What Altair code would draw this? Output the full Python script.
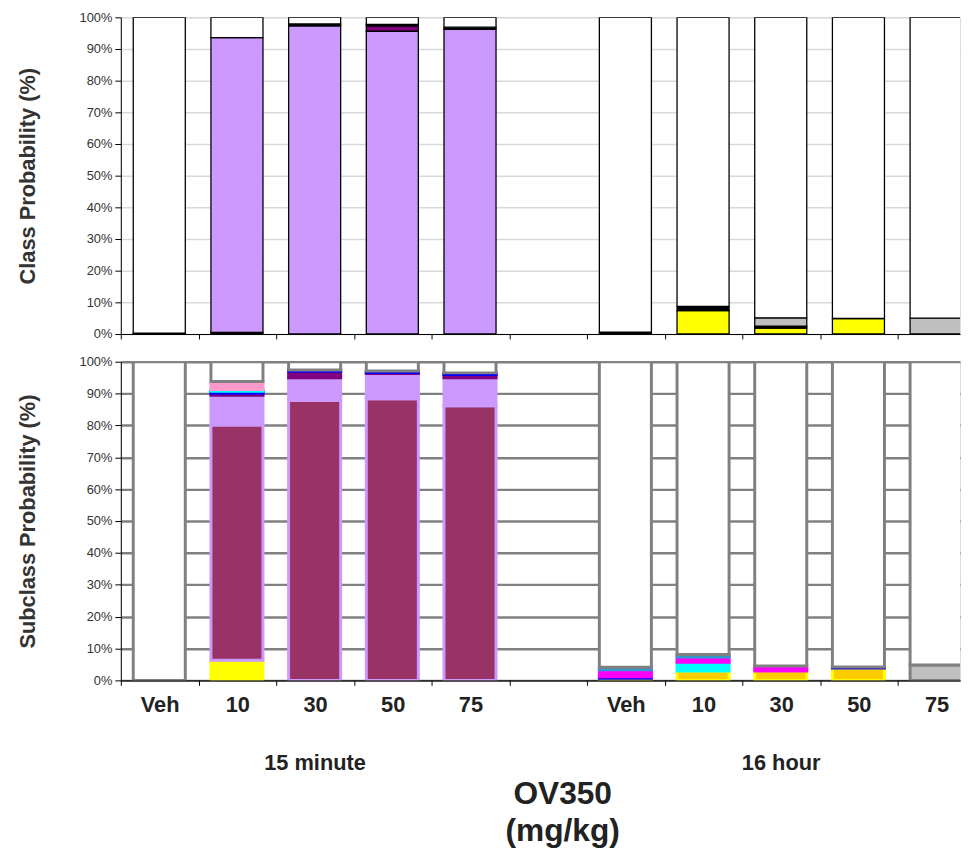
import json
import altair as alt
import pandas as pd

# ---------------- data ----------------
slot_labels = ["Veh", "10", "30", "50", "75", "", "Veh", "10", "30", "50", "75"]
slot_groups = ["15 minute"] * 5 + [""] + ["16 hour"] * 5
y_ticks = [0, 10, 20, 30, 40, 50, 60, 70, 80, 90, 100]

# class probabilities (%), stacked bottom -> top
class_names = ["Yellow class", "Black class A", "Gray class", "Purple class",
               "Plum class", "Black class B", "Other"]
class_colors = ["#FFFF00", "#000000", "#C0C0C0", "#CC99FF", "#800080", "#000000", "#FFFFFF"]
class_yellow = [0, 0, 0, 0, 0, 0, 0, 7.4, 1.9, 4.9, 0]
class_black_a = [0.3, 0.5, 0, 0, 0, 0, 0.6, 1.3, 0.6, 0, 0]
class_gray = [0, 0, 0, 0, 0, 0, 0, 0, 2.6, 0, 5.0]
class_purple = [0, 93.1, 97.3, 95.6, 96.2, 0, 0, 0, 0, 0, 0]
class_plum = [0, 0, 0, 1.7, 0, 0, 0, 0, 0, 0, 0]
class_black_b = [0, 0, 0.6, 0.5, 0.7, 0, 0, 0, 0, 0, 0]
class_other = [99.7, 6.4, 2.1, 2.2, 3.1, 0, 99.4, 91.3, 94.9, 95.1, 95.0]

# subclass probabilities (%), stacked bottom -> top
sub_names = ["Yellow sub", "Gold sub", "Maroon sub", "Lilac sub", "Plum sub", "Blue sub",
             "Cyan sub", "Magenta sub", "Dotted sub", "Pink sub", "Gray sub", "Other sub"]
sub_fill = ["#FFFF00", "#FFCC00", "#993366", "#CC99FF", "#800080", "#0000FF",
            "#00FFFF", "#FF00FF", "#FF00FF", "#FF99CC", "#C0C0C0", "#FFFFFF"]
sub_stroke = ["#FFFF00", "#FFFF00", "#CC99FF", "#CC99FF", "#800080", "#0000FF",
              "#00FFFF", "#FF00FF", "#3399CC", "#FF99CC", "#808080", "#808080"]
sub_dash = [[1, 0]] * 8 + [[2, 2]] + [[1, 0]] * 3
sub_yellow = [0, 6.3, 0, 0, 0, 0, 0, 0, 0, 0, 0]
sub_gold = [0, 0, 0, 0, 0, 0, 0.7, 2.9, 2.9, 3.9, 0]
sub_maroon = [0, 73.8, 87.8, 88.4, 86.2, 0, 0, 0, 0, 0, 0]
sub_lilac = [0, 9.4, 7.2, 7.9, 8.8, 0, 0, 0, 0, 0, 0]
sub_plum = [0, 0.6, 2.0, 0.3, 1.0, 0, 0, 0, 0, 0, 0]
sub_blue = [0, 0.6, 0.4, 0.5, 0.5, 0, 0.4, 0, 0, 0.3, 0]
sub_cyan = [0, 0.6, 0, 0, 0, 0, 0, 2.8, 0, 0, 0]
sub_magenta = [0, 0, 0, 0, 0, 0, 2.2, 1.6, 1.6, 0, 0]
sub_dotted = [0, 0, 0, 0, 0, 0, 0.8, 0.8, 0, 0, 0]
sub_pink = [0, 2.5, 0, 0, 0, 0, 0, 0, 0, 0, 0]
sub_gray = [0, 0, 0, 0, 0, 0, 0, 0, 0, 0, 4.8]
sub_other = [100, 6.2, 2.6, 2.9, 3.5, 0, 95.9, 91.9, 95.5, 95.8, 95.2]


def long_table(names, series, key):
    rows = []
    for k, (name, vals) in enumerate(zip(names, series)):
        for s, v in enumerate(vals):
            rows.append({"slot": s, key: name, "k": k, "value": v})
    return pd.DataFrame(rows)


class_df = long_table(class_names, [class_yellow, class_black_a, class_gray, class_purple,
                                    class_plum, class_black_b, class_other], "cls")
sub_df = long_table(sub_names, [sub_yellow, sub_gold, sub_maroon, sub_lilac, sub_plum, sub_blue,
                                sub_cyan, sub_magenta, sub_dotted, sub_pink, sub_gray, sub_other], "sub")
group_df = pd.DataFrame({"slot": list(range(len(slot_groups))), "group": slot_groups})

# ---------------- layout ----------------
FONT = "Liberation Sans"
PLOT_W = 848
STEP = 78.5
X_MAX = PLOT_W / STEP
x_scale = alt.Scale(domain=[0, X_MAX], nice=False, zero=False)
y_scale = alt.Scale(domain=[0, 100], nice=False)
slot_values = list(range(len(slot_labels)))


def y_axis(title, grid_color, grid_width):
    return alt.Axis(values=y_ticks, labelExpr="datum.value + '%'", labelFont=FONT,
                    labelFontSize=13, labelColor="#333333", labelPadding=3,
                    tickSize=6, tickColor="#000000", domainColor="#000000",
                    grid=True, gridColor=grid_color, gridWidth=grid_width,
                    title=title, titleFont=FONT, titleFontSize=22, titleFontWeight="bold",
                    titleColor="#333333", titlePadding=40)


top_x_axis = alt.Axis(values=slot_values, labels=False, tickSize=5, tickColor="#000000",
                      domainColor="#000000", grid=False, title=None)

bottom_x_axis = alt.Axis(values=slot_values,
                         labelExpr=json.dumps(slot_labels) + "[datum.value]",
                         labelOffset=STEP / 2, labelFlush=False, labelOverlap=False,
                         labelFont=FONT, labelFontSize=22, labelFontWeight="bold",
                         labelColor="#222222", labelPadding=9,
                         tickSize=5, tickColor="#000000", domainColor="#000000", grid=False,
                         title=["OV350", "(mg/kg)"], titleFont=FONT, titleFontSize=32,
                         titleFontWeight="bold", titleColor="#222222",
                         titleX=446, titleY=124, titleBaseline="alphabetic",
                         titleAlign="center", titleLineHeight=38)

top = (
    alt.Chart(class_df)
    .transform_filter("datum.value > 0")
    .transform_stack(stack="value", groupby=["slot"], as_=["y0", "y1"],
                     sort=[alt.SortField("k", order="ascending")])
    .transform_calculate(xa="datum.slot + 0.16", xb="datum.slot + 0.83")
    .mark_rect(clip=True, stroke="#000000", strokeWidth=1.3)
    .encode(
        x=alt.X("xa:Q", scale=x_scale, axis=top_x_axis),
        x2="xb:Q",
        y=alt.Y("y0:Q", scale=y_scale, axis=y_axis("Class Probability (%)", "#D9D9D9", 1.5)),
        y2="y1:Q",
        color=alt.Color("cls:N", scale=alt.Scale(domain=class_names, range=class_colors), legend=None),
    )
    .properties(width=PLOT_W, height=320)
)

bottom_bars = (
    alt.Chart(sub_df)
    .transform_filter("datum.value > 0")
    .transform_stack(stack="value", groupby=["slot"], as_=["y0", "y1"],
                     sort=[alt.SortField("k", order="ascending")])
    .transform_calculate(xa="datum.slot + 0.16", xb="datum.slot + 0.83")
    .mark_rect(clip=True, strokeWidth=3)
    .encode(
        x=alt.X("xa:Q", scale=x_scale, axis=bottom_x_axis),
        x2="xb:Q",
        y=alt.Y("y0:Q", scale=y_scale, axis=y_axis("Subclass Probability (%)", "#808080", 2.5)),
        y2="y1:Q",
        color=alt.Color("sub:N", scale=alt.Scale(domain=sub_names, range=sub_fill), legend=None),
        stroke=alt.Stroke("sub:N", scale=alt.Scale(domain=sub_names, range=sub_stroke), legend=None),
        strokeDash=alt.StrokeDash("sub:N", scale=alt.Scale(domain=sub_names, range=sub_dash), legend=None),
    )
)

group_text = (
    alt.Chart(group_df)
    .transform_filter("datum.group != ''")
    .transform_aggregate(mid="mean(slot)", groupby=["group"])
    .transform_calculate(xm="datum.mid + 0.5")
    .mark_text(font=FONT, fontSize=22, fontWeight="bold", color="#222222", baseline="middle")
    .encode(x=alt.X("xm:Q", scale=x_scale), y=alt.value(406), text="group:N")
)

bottom = alt.layer(bottom_bars, group_text).properties(width=PLOT_W, height=322)

chart = (
    alt.vconcat(top, bottom, spacing=13)
    .resolve_scale(color="independent", stroke="independent")
    .properties(padding={"left": 8, "top": -2, "right": 0, "bottom": 0})
    .configure_view(stroke=None)
    .configure(font=FONT)
)

chart.save("out.html", embed_options={"renderer": "svg", "actions": False})
